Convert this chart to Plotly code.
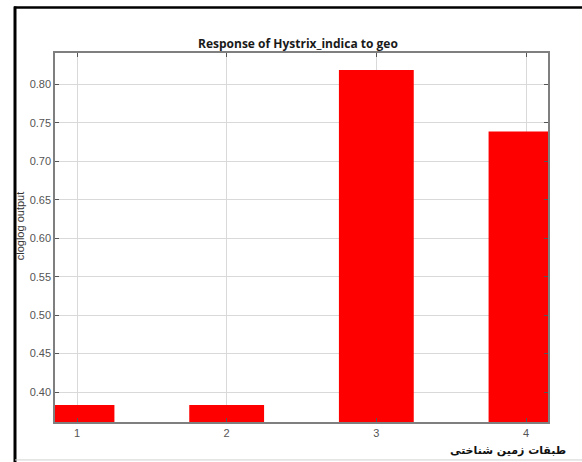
import plotly.graph_objects as go

categories = [1, 2, 3, 4]
values = [0.383, 0.383, 0.819, 0.739]
y_ticks = [0.40, 0.45, 0.50, 0.55, 0.60, 0.65, 0.70, 0.75, 0.80]
title_text = "Response of Hystrix_indica to geo"
y_label = "cloglog output"
x_label = "طبقات زمین شناختی"

W, H = 582, 462
L, R, T, B = 55, 548, 52.5, 422
pw, ph = R - L, B - T

def px(x):
    return (x - L) / pw

def py(y):
    return (B - y) / ph

fig = go.Figure()
fig.add_trace(go.Bar(x=categories, y=values, width=0.5,
                     marker=dict(color="#ff0000", line=dict(width=0))))

axis_common = dict(showline=True, linecolor="#7f7f7f", linewidth=1.5, mirror="ticks",
                   ticks="inside", ticklen=4, tickcolor="#555555",
                   showgrid=True, gridcolor="#d9d9d9", gridwidth=1, zeroline=False,
                   tickfont=dict(family="Liberation Sans", size=11, color="#555555"))

fig.update_xaxes(range=[0.853, 4.147], tickvals=categories,
                 ticktext=[str(c) for c in categories], **axis_common)
fig.update_yaxes(range=[0.361, 0.841], tickvals=y_ticks,
                 ticktext=[f"{v:.2f}" for v in y_ticks], **axis_common)

annotations = [
    dict(text=f"<b>{title_text}</b>", x=px(298), y=py(43), xref="paper", yref="paper",
         showarrow=False, xanchor="center", yanchor="middle",
         font=dict(family="Open Sans", size=12, color="#1a1a1a")),
    dict(text=y_label, x=px(20), y=py(226), xref="paper", yref="paper", textangle=-90,
         showarrow=False, xanchor="center", yanchor="middle",
         font=dict(family="Liberation Sans", size=11, color="#333333")),
    dict(text=f"<b>{x_label}</b>", x=px(508), y=py(451), xref="paper", yref="paper",
         showarrow=False, xanchor="center", yanchor="middle",
         font=dict(family="DejaVu Sans", size=11, color="#111111")),
]

shapes = [
    dict(type="line", xref="paper", yref="paper", x0=px(15), x1=px(15), y0=py(6), y1=py(462),
         line=dict(color="black", width=3)),
    dict(type="line", xref="paper", yref="paper", x0=px(14), x1=px(582), y0=py(7), y1=py(7),
         line=dict(color="black", width=2.5)),
    dict(type="line", xref="paper", yref="paper", x0=px(15), x1=px(582), y0=py(460), y1=py(460),
         line=dict(color="#d0d0d0", width=1)),
]

fig.update_layout(width=W, height=H, margin=dict(l=L, r=W - R, t=T, b=H - B),
                  paper_bgcolor="white", plot_bgcolor="white", showlegend=False,
                  annotations=annotations, shapes=shapes)

fig.write_html("out.html")
